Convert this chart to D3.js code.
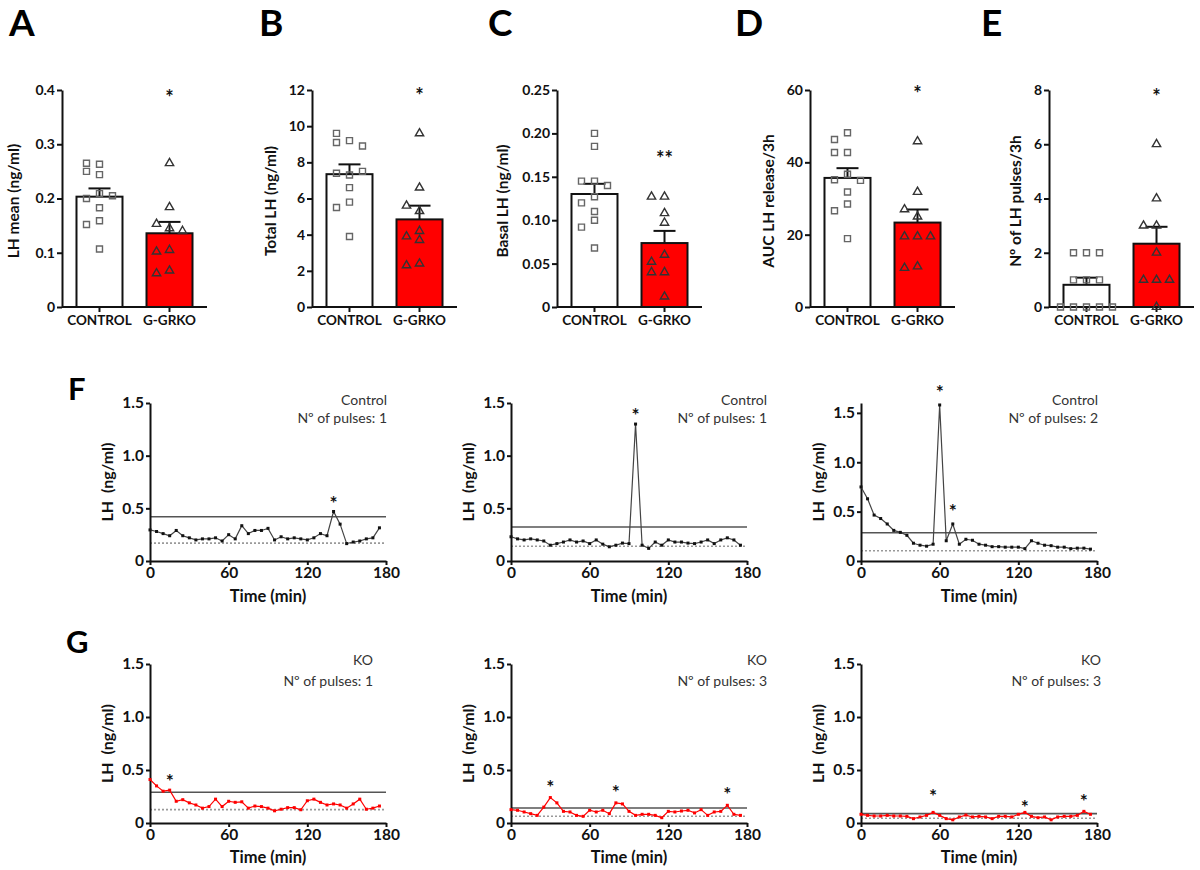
<!DOCTYPE html>
<html>
<head>
<meta charset="utf-8">
<script src="https://cdn.jsdelivr.net/npm/d3@7"></script>
<style>
body{margin:0;background:#fff;}
svg{display:block;}
text{font-family:Lato,'Open Sans',sans-serif;}
</style>
</head>
<body>
<div id="fig"></div>
<script>
// ---- data ----
var groups = ['CONTROL', 'G-GRKO'];

var lhMeanCtrl  = [0.263,0.265,0.25,0.244,0.209,0.2,0.205,0.183,0.159,0.152,0.107];
var lhMeanKo    = [0.265,0.184,0.145,0.153,0.14,0.105,0.102,0.067,0.062];
var totalLhCtrl = [9.2,9.6,9.1,8.9,7.3,7.4,7.5,6.6,5.8,5.5,3.9];
var totalLhKo   = [9.6,6.6,5.3,5.6,4.2,3.9,3.7,2.4,2.3];
var basalCtrl   = [0.2,0.185,0.145,0.145,0.14,0.127,0.12,0.11,0.1,0.092,0.068];
var basalKo     = [0.127,0.127,0.108,0.097,0.06,0.052,0.04,0.04,0.012];
var aucCtrl     = [48.2,46.3,42.7,42.7,36.7,35.2,35,31.8,28.5,26.6,18.9];
var aucKo       = [45.8,31.8,25,27,19.5,19.5,19.5,11.2,10.8];
var pulsesCtrl  = [2,2,2,1,1,1,0,0,0,0,0];
var pulsesKo    = [6,4,3,3,2,1,1,1,0];

var barTitles = ['LH mean (ng/ml)', 'Total LH (ng/ml)', 'Basal LH (ng/ml)', 'AUC LH release/3h', 'Nº of LH pulses/3h'];
var barLetters = ['A','B','C','D','E'];
var ticksA = [0,0.1,0.2,0.3,0.4];
var ticksB = [0,2,4,6,8,10,12];
var ticksC = [0,0.05,0.10,0.15,0.20,0.25];
var ticksD = [0,20,40,60];
var ticksE = [0,2,4,6,8];
var sigText  = ['*','*','**','*','*'];
var sigValue = [0.393,11.9,0.175,60,7.9];

var timeMin = [0,5,10,15,20,25,30,35,40,45,50,55,60,65,70,75,80,85,90,95,100,105,110,115,120,125,130,135,140,145,150,155,160,165,170,175];
var lhF1 = [0.295,0.28,0.26,0.24,0.29,0.24,0.22,0.2,0.21,0.21,0.22,0.19,0.25,0.21,0.335,0.26,0.29,0.29,0.31,0.2,0.23,0.21,0.22,0.21,0.2,0.22,0.26,0.24,0.47,0.35,0.165,0.18,0.19,0.21,0.22,0.315];
var lhF2 = [0.23,0.21,0.2,0.21,0.2,0.19,0.15,0.165,0.18,0.2,0.18,0.19,0.165,0.2,0.16,0.135,0.15,0.17,0.165,1.3,0.15,0.12,0.18,0.15,0.2,0.18,0.18,0.17,0.165,0.18,0.2,0.165,0.2,0.22,0.2,0.15];
var lhF3 = [0.75,0.63,0.465,0.43,0.375,0.31,0.29,0.26,0.18,0.16,0.15,0.17,1.58,0.205,0.375,0.17,0.22,0.21,0.17,0.16,0.145,0.145,0.14,0.14,0.14,0.125,0.205,0.18,0.16,0.155,0.14,0.14,0.125,0.13,0.13,0.12];
var lhG1 = [0.41,0.35,0.3,0.31,0.205,0.22,0.19,0.17,0.14,0.155,0.225,0.155,0.205,0.195,0.2,0.14,0.16,0.155,0.14,0.115,0.13,0.145,0.145,0.125,0.21,0.225,0.195,0.17,0.18,0.17,0.14,0.18,0.225,0.13,0.14,0.16];
var lhG2 = [0.126,0.12,0.104,0.088,0.072,0.15,0.24,0.19,0.11,0.104,0.072,0.063,0.12,0.104,0.12,0.088,0.19,0.18,0.11,0.072,0.082,0.082,0.072,0.05,0.11,0.104,0.113,0.12,0.095,0.126,0.072,0.104,0.11,0.167,0.082,0.072];
var lhG3 = [0.082,0.072,0.066,0.066,0.072,0.066,0.066,0.063,0.041,0.057,0.072,0.1,0.072,0.041,0.03,0.057,0.075,0.057,0.063,0.057,0.041,0.063,0.063,0.057,0.082,0.1,0.063,0.05,0.057,0.03,0.057,0.063,0.063,0.072,0.11,0.082];

var cutHigh = [0.42,0.323,0.286,0.29,0.142,0.088];
var cutLow  = [0.17,0.14,0.104,0.126,0.063,0.045];
var lineMax = [1.5,1.5,1.6,1.5,1.5,1.5];
var lhTicks = [0,0.5,1.0,1.5];
var timeTicks = [0,60,120,180];
var groupName = ['Control','Control','Control','KO','KO','KO'];
var pulseCount = [1,1,2,1,3,3];
var pulseTime = [[140],[95],[60,70],[15],[30,80,165],[55,125,170]];
var pulseStarY = [[0.58],[1.41],[1.74,0.54],[0.42],[0.365,0.325,0.3],[0.28,0.18,0.24]];

// ---- layout ----
var W = 1200, H = 870;
var barBox = { top:90, bottom:307, span:145,
	axisX:[62,312,557,810,1049], letterX:[9,259,488,735,981], titleX:[13,270,502,768,1015] };
var lineBox = { colX:[150,511,861], width:236, rows:[{top:403,bottom:561},{top:664,bottom:823}],
	noteRight:[387,767,1098,373,767,1101] };

var svg = d3.select('#fig').append('svg')
	.attr('width', W).attr('height', H).attr('viewBox', '0 0 ' + W + ' ' + H);
svg.append('rect').attr('width', W).attr('height', H).attr('fill', '#fff');

function styleAxis(g, fs, width){
	g.selectAll('path,line').attr('stroke', '#111').attr('stroke-width', width);
	g.selectAll('text').attr('fill', '#111').attr('font-size', fs + 'px')
		.attr('font-weight', 'bold').attr('font-family', 'Lato, sans-serif');
}

function fmtTick(ticks){
	var dec = d3.max(ticks, function(t){ var s = String(t).split('.')[1]; return s ? s.length : 0; });
	if(ticks.indexOf(0.25) >= 0) dec = 2;
	return function(v){ return v === 0 ? '0' : v.toFixed(dec); };
}

// spread points sideways when they collide (Prism-like scatter)
function swarm(vals, y, cx, step){
	var placed = [];
	var offs = [0];
	for(var i = 1; i < 6; i++){ offs.push(-i * step, i * step); }
	return vals.map(function(v){
		var py = y(v), px = cx;
		for(var j = 0; j < offs.length; j++){
			px = cx + offs[j];
			var hit = placed.some(function(p){ return Math.abs(p.x - px) < step - 1 && Math.abs(p.y - py) < 8; });
			if(!hit) break;
		}
		placed.push({x:px, y:py});
		return {x:px, y:py};
	});
}

function drawBarPanel(i, ctrl, ko, ticks){
	var x0 = barBox.axisX[i];
	var y = d3.scaleLinear().domain([0, d3.max(ticks)]).range([barBox.bottom, barBox.top]);
	var x = d3.scaleBand().domain(groups).range([x0, x0 + barBox.span]).paddingInner(0.343).paddingOuter(0.207);
	var g = svg.append('g');
	var sets = [ctrl, ko];

	// panel letter + y title
	svg.append('text').attr('x', barBox.letterX[i]).attr('y', 36)
		.attr('font-size', '37px').attr('font-weight', 'bold').attr('fill', '#000').text(barLetters[i]);
	svg.append('text').attr('transform', 'translate(' + barBox.titleX[i] + ',201) rotate(-90)')
		.attr('text-anchor', 'middle').attr('dominant-baseline', 'central')
		.attr('font-size', '15.5px').attr('font-weight', 'bold').attr('fill', '#111').text(barTitles[i]);

	sets.forEach(function(vals, k){
		var m = d3.mean(vals), sem = d3.deviation(vals) / Math.sqrt(vals.length);
		var cx = x(groups[k]) + x.bandwidth() / 2;
		g.append('rect')
			.attr('x', x(groups[k])).attr('y', y(m))
			.attr('width', x.bandwidth()).attr('height', y(0) - y(m))
			.attr('fill', k === 0 ? '#fff' : '#ff0000')
			.attr('stroke', '#111').attr('stroke-width', 2);
		g.append('line').attr('x1', cx).attr('x2', cx).attr('y1', y(m)).attr('y2', y(m + sem))
			.attr('stroke', '#111').attr('stroke-width', 2);
		g.append('line').attr('x1', cx - 11).attr('x2', cx + 11).attr('y1', y(m + sem)).attr('y2', y(m + sem))
			.attr('stroke', '#111').attr('stroke-width', 2);
	});

	var ya = g.append('g').attr('transform', 'translate(' + x0 + ',0)')
		.call(d3.axisLeft(y).tickValues(ticks).tickSize(5).tickSizeOuter(0).tickPadding(2).tickFormat(fmtTick(ticks)));
	styleAxis(ya, 14, 2);
	var xa = g.append('g').attr('transform', 'translate(0,' + barBox.bottom + ')')
		.call(d3.axisBottom(x).tickSize(5).tickSizeOuter(0).tickPadding(3));
	styleAxis(xa, 13.5, 2);
	xa.select('.domain').attr('d', 'M' + x0 + ',0H' + (x0 + barBox.span));

	// points
	sets.forEach(function(vals, k){
		var cx = x(groups[k]) + x.bandwidth() / 2;
		var pts = swarm(vals, y, cx, 13);
		var sym = d3.symbol().type(k === 0 ? d3.symbolSquare : d3.symbolTriangle).size(k === 0 ? 36 : 30);
		g.selectAll(null).data(pts).enter().append('path')
			.attr('d', sym)
			.attr('transform', function(p){ return 'translate(' + p.x + ',' + p.y + ')'; })
			.attr('fill', 'none')
			.attr('stroke', k === 0 ? '#666' : '#333')
			.attr('stroke-width', 1.4);
	});

	// significance
	var kx = x(groups[1]) + x.bandwidth() / 2;
	g.append('text').attr('x', kx).attr('y', y(sigValue[i]) + 11)
		.attr('text-anchor', 'middle').attr('font-size', '20px').attr('font-weight', 'bold')
		.attr('fill', '#111').text(sigText[i]);
}

drawBarPanel(0, lhMeanCtrl, lhMeanKo, ticksA);
drawBarPanel(1, totalLhCtrl, totalLhKo, ticksB);
drawBarPanel(2, basalCtrl, basalKo, ticksC);
drawBarPanel(3, aucCtrl, aucKo, ticksD);
drawBarPanel(4, pulsesCtrl, pulsesKo, ticksE);

function drawLinePanel(i, series){
	var row = lineBox.rows[Math.floor(i / 3)], col = i % 3;
	var x0 = lineBox.colX[col];
	var isKo = i >= 3;
	var x = d3.scaleLinear().domain([0, 180]).range([x0, x0 + lineBox.width]);
	var y = d3.scaleLinear().domain([0, lineMax[i]]).range([row.bottom, row.top]);
	var g = svg.append('g');

	// threshold lines
	g.append('line').attr('x1', x(0)).attr('x2', x(180)).attr('y1', y(cutHigh[i])).attr('y2', y(cutHigh[i]))
		.attr('stroke', '#555').attr('stroke-width', 1.6);
	g.append('line').attr('x1', x(0)).attr('x2', x(180)).attr('y1', y(cutLow[i])).attr('y2', y(cutLow[i]))
		.attr('stroke', '#999').attr('stroke-width', 1.6).attr('stroke-dasharray', '2 2');

	var ya = g.append('g').attr('transform', 'translate(' + x0 + ',0)')
		.call(d3.axisLeft(y).tickValues(lhTicks).tickSize(4).tickSizeOuter(0).tickPadding(2)
			.tickFormat(function(v){ return v === 0 ? '0' : v.toFixed(1); }));
	styleAxis(ya, 15.5, 2);
	var xa = g.append('g').attr('transform', 'translate(0,' + row.bottom + ')')
		.call(d3.axisBottom(x).tickValues(timeTicks).tickSize(4).tickSizeOuter(0).tickPadding(2));
	styleAxis(xa, 15.5, 2);

	var data = timeMin.map(function(t, k){ return {t:t, v:series[k]}; });
	g.append('path').datum(data)
		.attr('d', d3.line().x(function(d){ return x(d.t); }).y(function(d){ return y(d.v); }))
		.attr('fill', 'none').attr('stroke', isKo ? '#ff0000' : '#444').attr('stroke-width', 1.2);
	g.selectAll(null).data(data).enter().append('rect')
		.attr('x', function(d){ return x(d.t) - 1.5; }).attr('y', function(d){ return y(d.v) - 1.5; })
		.attr('width', 3).attr('height', 3).attr('fill', isKo ? '#ff0000' : '#111');

	pulseTime[i].forEach(function(t, k){
		g.append('text').attr('x', x(t)).attr('y', y(pulseStarY[i][k]) + 10)
			.attr('text-anchor', 'middle').attr('font-size', '19px').attr('font-weight', 'bold')
			.attr('fill', '#111').text('*');
	});

	// labels
	var mid = (row.top + row.bottom) / 2;
	g.append('text').attr('transform', 'translate(' + (x0 - 44) + ',' + mid + ') rotate(-90)')
		.attr('text-anchor', 'middle').attr('dominant-baseline', 'central')
		.attr('font-size', '16px').attr('font-weight', 'bold').attr('fill', '#111')
		.attr('xml:space', 'preserve').style('white-space', 'pre').text('LH  (ng/ml)');
	g.append('text').attr('x', x(90)).attr('y', row.bottom + (isKo ? 40 : 41))
		.attr('text-anchor', 'middle').attr('font-size', '16.5px').attr('font-weight', 'bold')
		.attr('fill', '#111').text('Time (min)');
	var nx = lineBox.noteRight[i];
	var ny = isKo ? 665 : 405;
	g.append('text').attr('x', nx).attr('y', ny).attr('text-anchor', 'end')
		.attr('font-size', '14px').attr('fill', '#333').text(groupName[i]);
	g.append('text').attr('x', nx).attr('y', ny + (isKo ? 21 : 18)).attr('text-anchor', 'end')
		.attr('font-size', '14px').attr('fill', '#333').text('Nº of pulses: ' + pulseCount[i]);
}

[lhF1, lhF2, lhF3, lhG1, lhG2, lhG3].forEach(function(s, i){ drawLinePanel(i, s); });

svg.append('text').attr('x', 68).attr('y', 400).attr('font-size', '31px').attr('font-weight', 'bold').attr('fill', '#000').text('F');
svg.append('text').attr('x', 66).attr('y', 653).attr('font-size', '31px').attr('font-weight', 'bold').attr('fill', '#000').text('G');
</script>
</body>
</html>
